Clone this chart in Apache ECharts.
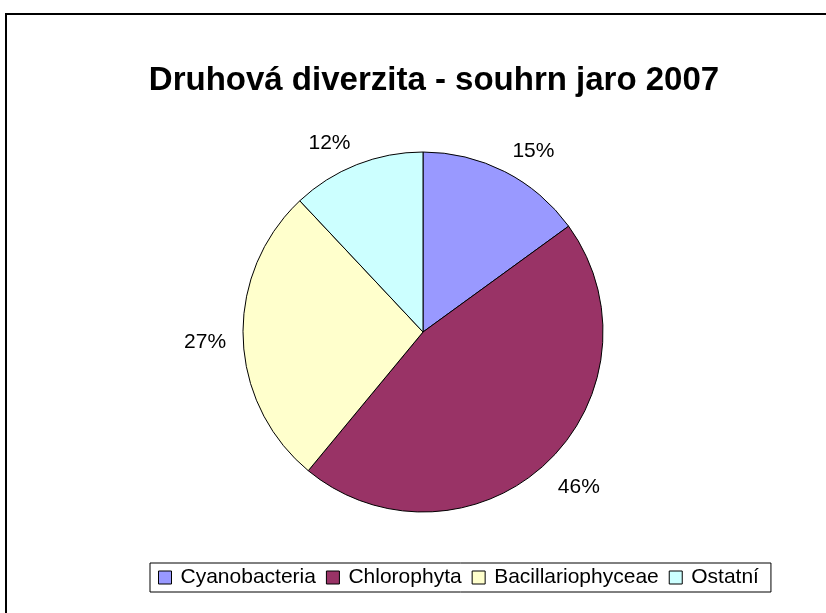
<!DOCTYPE html>
<html>
<head>
<meta charset="utf-8">
<script src="https://cdn.jsdelivr.net/npm/echarts@6/dist/echarts.min.js"></script>
<style>
  html, body { margin: 0; padding: 0; background: #fff; }
  #chart { width: 826px; height: 613px; }
</style>
</head>
<body>
<div id="chart"></div>
<script>
var kategorie = ['Cyanobacteria', 'Chlorophyta', 'Bacillariophyceae', 'Ostatní'];
var hodnoty = [15, 46, 27, 12];
var barvy = ['#9999FF', '#993366', '#FFFFCC', '#CCFFFF'];

var stred = [423, 332];
var polomer = 180;
var vzdalenostPopisku = 197;

// stredni uhel kazde vysece (od 12 hodin, po smeru hodin)
var soucet = hodnoty.reduce(function (a, b) { return a + b; }, 0);
var stredniUhly = [];
var kum = 0;
for (var i = 0; i < hodnoty.length; i++) {
	var uhel = 90 - (kum + hodnoty[i] / 2) / soucet * 360;
	stredniUhly.push(uhel * Math.PI / 180);
	kum += hodnoty[i];
}

var data = kategorie.map(function (k, i) {
	return { name: k, value: hodnoty[i], itemStyle: { color: barvy[i] } };
});

var chartDom = document.getElementById('chart');
var myChart = echarts.init(chartDom);
var option;

option = {
	backgroundColor: '#ffffff',
	animation: false,
	textStyle: { fontFamily: 'Liberation Sans, Arial, sans-serif' },
	graphic: [
		{
			type: 'rect',
			shape: { x: 6, y: 14, width: 900, height: 700 },
			style: { fill: 'none', stroke: '#000', lineWidth: 2 },
			silent: true
		}
	],
	title: {
		text: 'Druhová diverzita - souhrn jaro 2007',
		left: 429,
		textAlign: 'center',
		top: 59,
		textStyle: {
			fontFamily: 'Liberation Sans, Arial, sans-serif',
			fontSize: 33,
			fontWeight: 'bold',
			color: '#000'
		}
	},
	legend: {
		data: kategorie,
		left: 150,
		top: 563,
		orient: 'horizontal',
		padding: [4, 12, 4, 8],
		itemGap: 10,
		itemWidth: 13,
		itemHeight: 13,
		icon: 'rect',
		borderColor: '#000',
		borderWidth: 1,
		itemStyle: { borderColor: '#000', borderWidth: 1 },
		textStyle: {
			fontFamily: 'Liberation Sans, Arial, sans-serif',
			fontSize: 21,
			color: '#000',
			padding: [0, 0, 0, 4]
		}
	},
	series: [
		{
			type: 'pie',
			center: stred,
			radius: polomer,
			startAngle: 90,
			clockwise: true,
			avoidLabelOverlap: false,
			itemStyle: { borderColor: '#000', borderWidth: 1 },
			emphasis: { disabled: true },
			label: {
				show: true,
				position: 'outside',
				formatter: function (p) { return Math.round(p.percent) + '%'; },
				fontFamily: 'Liberation Sans, Arial, sans-serif',
				fontSize: 21,
				color: '#000'
			},
			labelLine: { show: false },
			// popisek se opira rohem o kruh kolem kolace (jako v Excelu)
			labelLayout: function (params) {
				var a = stredniUhly[params.dataIndex];
				var w = params.labelRect.width;
				var h = params.labelRect.height;
				var px = stred[0] + Math.cos(a) * vzdalenostPopisku;
				var py = stred[1] - Math.sin(a) * vzdalenostPopisku;
				return {
					x: px + (Math.cos(a) >= 0 ? 1 : -1) * w / 2,
					y: py - Math.sin(a) * h / 2 + 4,
					align: 'center',
					verticalAlign: 'middle'
				};
			},
			data: data
		}
	]
};

option && myChart.setOption(option);
</script>
</body>
</html>
